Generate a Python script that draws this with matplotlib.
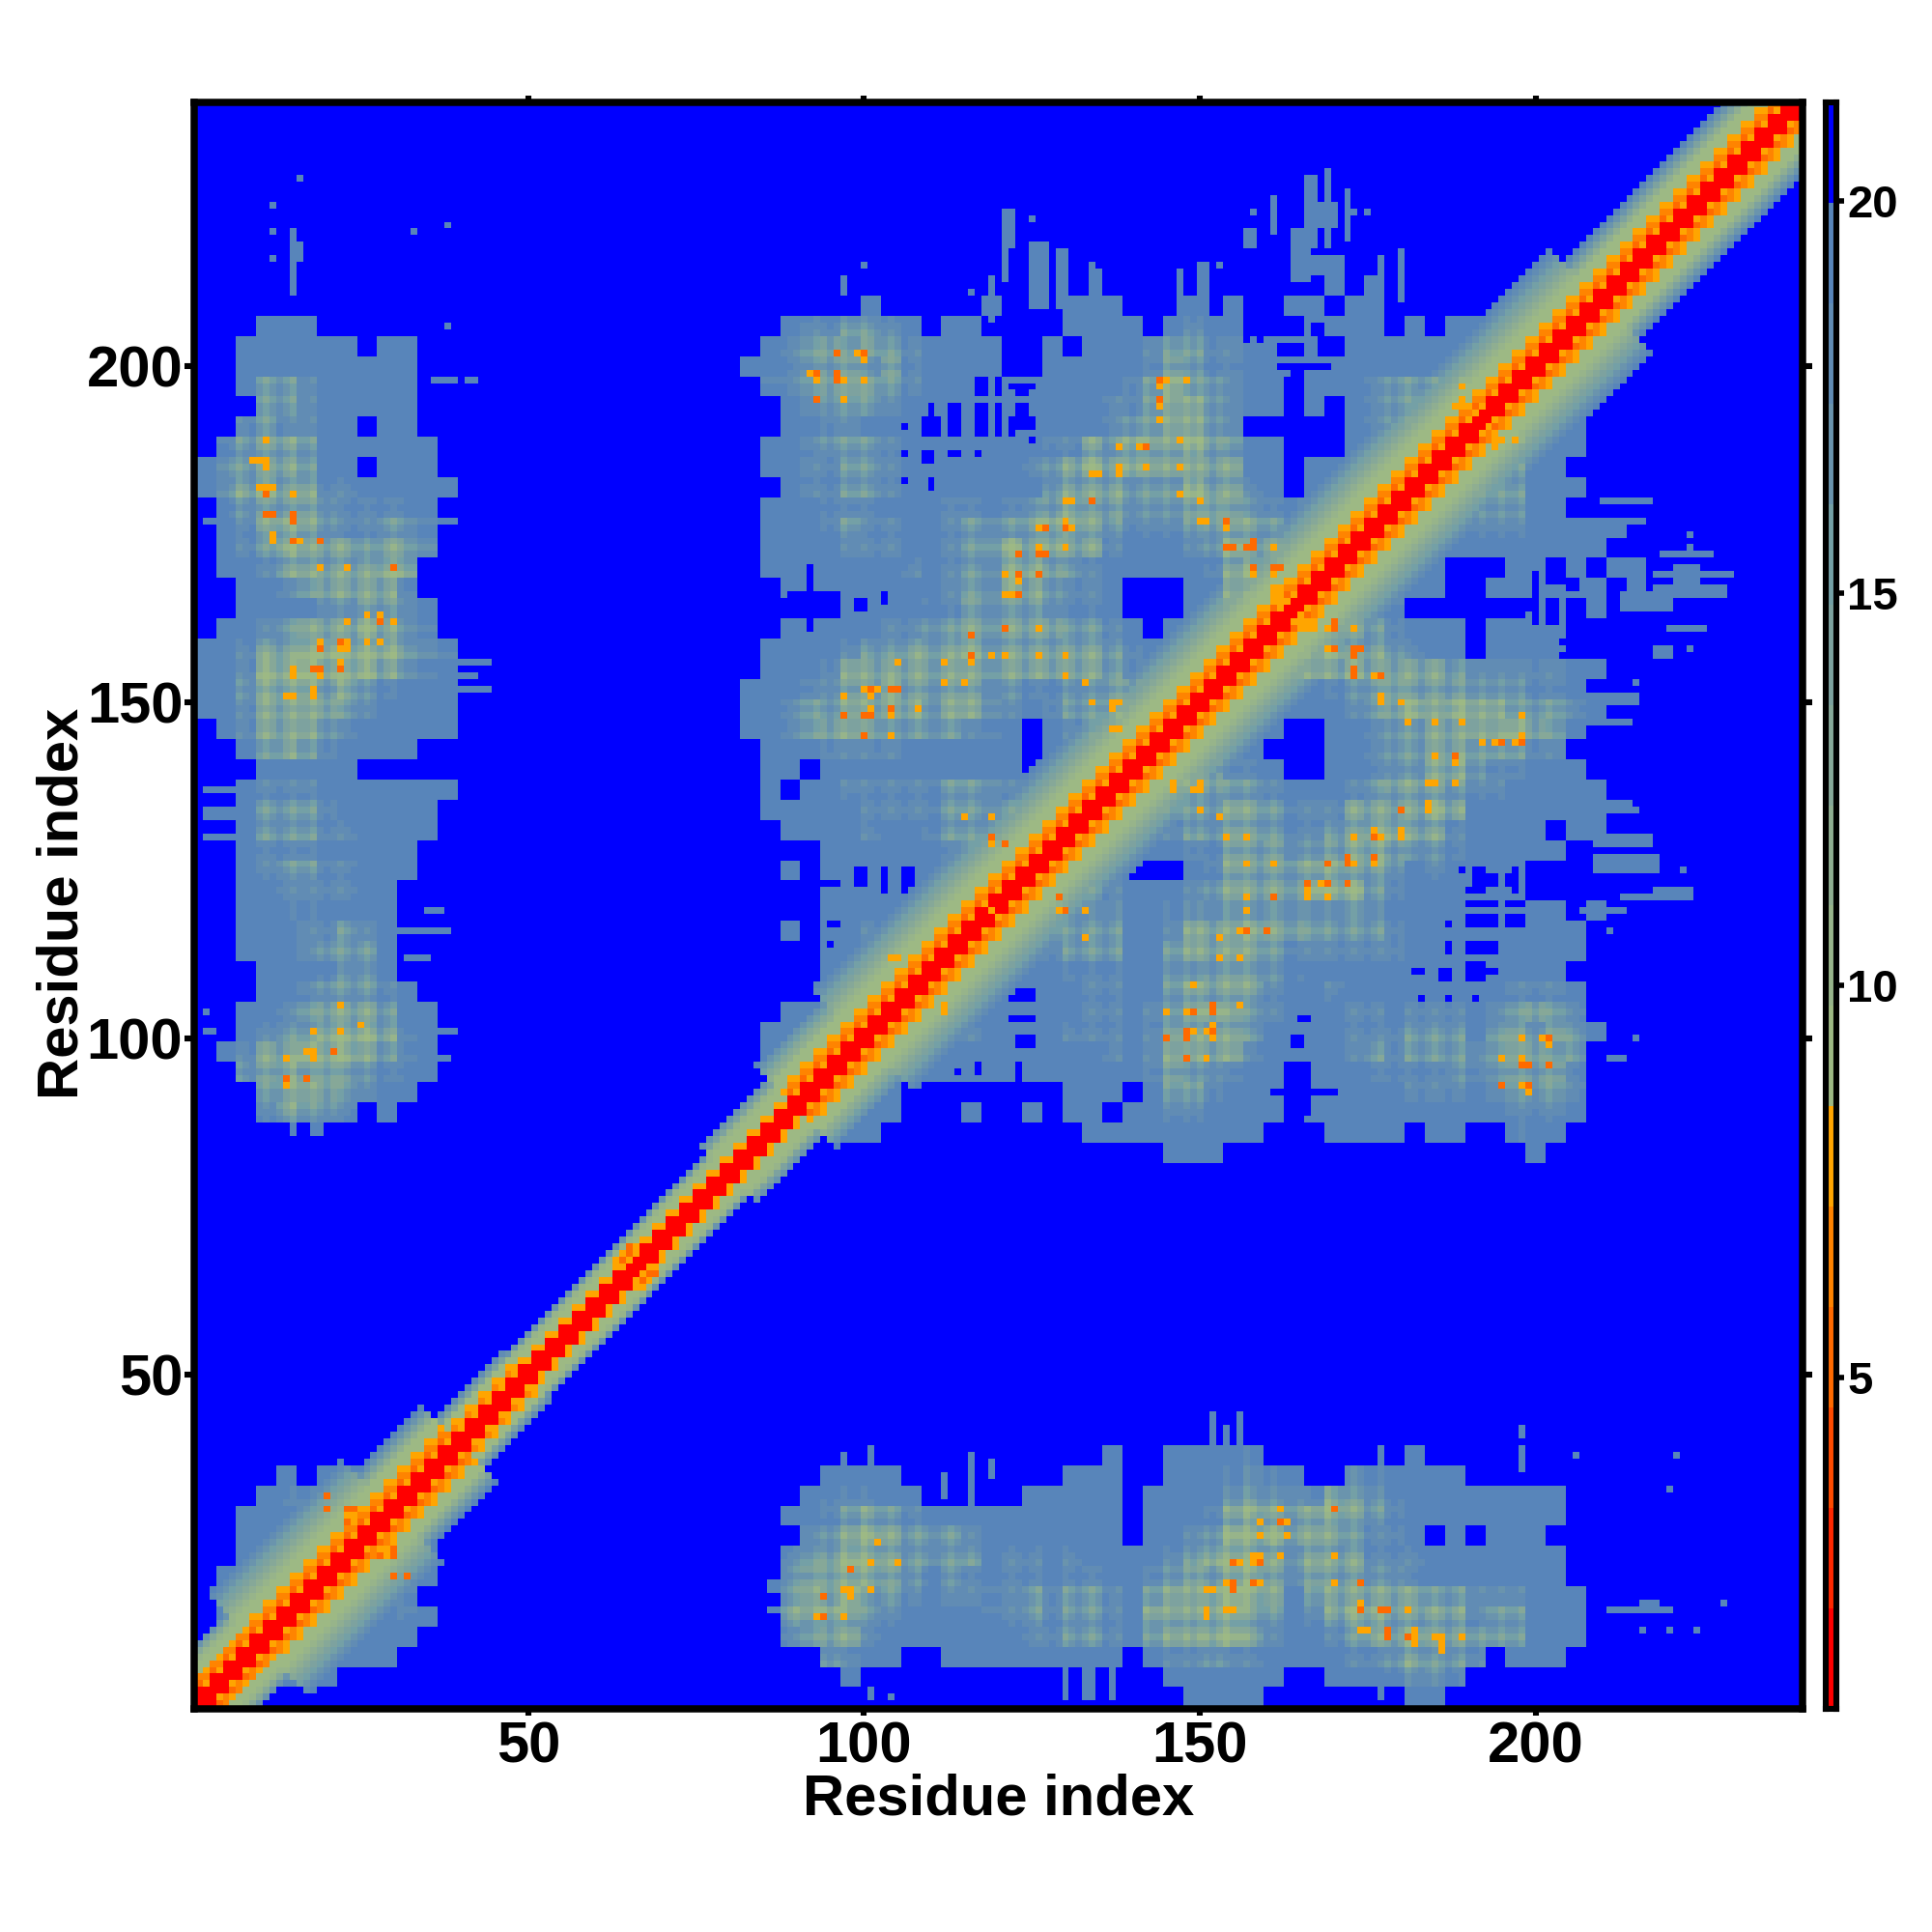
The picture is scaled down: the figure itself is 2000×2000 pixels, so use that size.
import numpy as np
import matplotlib
matplotlib.use("Agg")
import matplotlib.pyplot as plt
from matplotlib.colors import ListedColormap, BoundaryNorm

plt.rcParams['font.family'] = ['Liberation Sans', 'DejaVu Sans']
plt.rcParams['font.weight'] = 'bold'

N = 239
AXIS_LABEL = "Residue index"
MAP_TICKS = [50, 100, 150, 200]
BAR_TICKS = [5, 10, 15, 20]
LEVEL_EDGES = [0.78, 2.06, 3.34, 4.62, 5.90, 7.18, 8.46, 9.74, 11.02, 12.30,
               13.58, 14.86, 16.14, 17.42, 18.70, 19.98, 21.26]
LEVEL_COLOURS = ['#ff0000', '#ff2800', '#ff4b00', '#ff6a00', '#ff8400', '#ffa500',
                 '#9db984', '#97b48a', '#8fae91', '#86a898', '#7da29f', '#74a0a6',
                 '#6a94ad', '#618cb4', '#5885ba', '#0000ff']

# Upper-left half of the symmetric map, read in blocks of three residues.
# '.' is beyond the cut-off; digits are how far a block leans from steel to green.
STRIP_ROWS = {
    68: "...000........", 67: "..000000.00...", 66: "..000000000...",
    65: "..022100000...", 64: "...22100000...", 63: "..121100.00...",
    62: ".12332000000..", 61: "02233200.000..", 60: "0234331100000.",
    59: ".12333211111..", 58: ".01343211221..", 57: ".01243332332..",
    56: ".0013333344...", 55: "..001233331...", 54: "..0000223321..",
    53: ".00123334321..", 52: "0013345444321.", 51: "0014454443210.",
    50: "0024443421000.", 49: "0013333210000.", 48: ".013332100000.",
    47: "..023210000...", 46: "...00000......", 45: "..01110000000.",
    44: "..0222100000..", 43: "..0222110000..", 42: "..011100000...",
    41: "..012211000...", 40: "..00111100....", 39: "..00111000....",
    38: "..00011210....", 37: "..00012220....", 36: "...0001220....",
    35: "...00122210...", 34: "..0012333200..", 33: "..0122444310..",
    32: ".01334443210..", 31: "..2343432110..", 30: "...23332100...",
    29: "...13221.0....",
}
CORNER_ROWS = {
    2: "0", 3: ".0", 4: ".01", 5: ".0011", 6: ".00012", 7: "..00012",
    8: "..000012", 9: "..0001123", 10: "...0112112", 11: "....0.00011",
    12: "..........00",
}
SQUARE_ROWS = {  # first column is block 27
    71: "..... ..... ..... ..... ..... ....0",
    70: "..... ..... ..... ..... ..... ....0 .0",
    69: "..... .0... ..0.. .000. ..0.0 ..00. 00",
    68: "..011 2210. 00... .0000 .0100 ...00 00.0. 00012 3",
    67: ".0123 23210 000.. 0.000 12211 00000 00000 01122",
    66: "01123 32310 000.. 00000 13211 00000 00000 1223",
    65: ".1123 33210 00000 00001 24221 00.00 01222 333",
    64: "..012 22100 00000 00011 23321 00.0. 01222 33",
    63: "..001 10000 00000 00012 23321 ..... 01223 3",
    62: ".0012 22100 00000 11324 33432 00... 01233",
    61: ".0011 22100 00001 23434 33333 00.00 0123",
    60: "..011 22100 00000 23332 22433 10.00 123",
    59: ".0001 11000 11112 34332 22343 21101 13",
    58: ".0001 21100 12223 44321 11233 32112 3",
    57: ".0000 11100 12343 43310 00124 33333",
    56: ".0000 00010 12244 32100 00013 4333",
    55: "..000 00000 12243 2110. ..003 344",
    54: "..... 00001 13333 2110. ..003 34",
    53: "..000 00112 23333 32210 .0003 3",
    52: ".0000 12233 34333 33321 00013",
    51: ".0001 33333 33333 33321 1112",
    50: "00012 33433 33221 12233 233",
    49: "00122 33332 33210 12233 33",
    48: "00123 33222 2110. 01223 3",
    47: ".0001 11100 0000. 00123",
    46: ".00.0 00000 0000. 0123",
    45: ".0.00 11111 22210 233",
    44: ".0000 01111 22221 23",
    43: "..000 01001 22322 3",
    42: "....0 00000 12333",
    41: "..0.0 00000 1123",
    40: "....0 00000 011",
    39: "....0 00001 22",
    38: "..0.0 01122 3",
    37: "....0 01233",
    36: "....0 1123",
    35: "....0 001",
    34: "..000 00",
    33: ".0000 0",
    32: ".0000",
    31: "..00",
    29: "00",
}

# Residues whose rows and columns show up as the brighter stripes of the plaid.
BRIGHT_RESIDUES = [7, 11, 15, 18, 22, 26, 30, 90, 93, 97, 100, 104, 108, 113, 116,
                   122, 126, 130, 134, 138, 142, 145, 148, 150, 154, 157, 161, 166,
                   169, 173, 177, 181, 185, 189, 192, 195, 198, 202, 205]

# Level by sequence separation next to the diagonal, for 10-residue stretches.
BAND_CORE_EVEN = [0, 0, 0]
BAND_CORE_ODD = [0, 0, 5]
BAND_ROWS = [  # first character is separation 3
    "346679c", "34566789abcde", "34566789abcde",
    "345668ace", "456ad", "567c",
    "567c", "567c", "5667ac",
    "3456689bce", "34566789abcde", "34566789abcde",
    "34566789abcde", "34566789abcde", "34566789abcde",
    "34566789abcde", "34566789abcde", "34566789abcde",
    "34566789abcde", "34566789abcde", "34566789abcde",
    "345668ace", "345668ace", "345668ace",
]

# Thin features: x0, x1, y0, y1 in residues.
STEEL_SPANS = [
    (15, 15, 211, 220), (16, 16, 216, 218), (15, 15, 204, 206), (16, 16, 228, 228),
    (12, 12, 224, 224), (12, 12, 220, 220), (12, 12, 216, 216), (33, 33, 220, 220),
    (38, 38, 221, 221), (38, 38, 206, 206), (36, 39, 198, 198), (41, 42, 198, 198),
    (2, 5, 177, 177), (37, 39, 177, 177), (40, 44, 156, 156), (40, 42, 154, 154),
    (39, 44, 152, 152), (2, 6, 137, 137), (2, 6, 134, 134), (2, 6, 133, 133),
    (2, 7, 130, 130), (35, 37, 119, 119), (31, 38, 116, 116), (32, 35, 112, 112),
    (2, 3, 101, 101), (36, 39, 101, 101), (36, 38, 97, 97), (2, 2, 104, 104),
    (15, 15, 86, 90), (18, 19, 86, 89), (22, 22, 88, 90),
    (121, 122, 218, 223), (125, 125, 222, 222), (125, 127, 209, 218),
    (129, 130, 209, 217), (134, 135, 209, 214), (134, 134, 215, 215),
    (119, 119, 207, 213), (121, 121, 213, 217), (97, 97, 211, 213),
    (100, 100, 215, 215), (116, 116, 211, 211), (147, 147, 208, 214),
    (150, 151, 208, 215), (153, 153, 215, 215), (161, 161, 220, 225),
    (158, 158, 223, 223), (166, 167, 218, 228), (169, 169, 218, 229),
    (172, 172, 219, 226), (173, 173, 223, 223), (175, 175, 223, 223),
    (157, 158, 218, 220), (164, 166, 213, 220), (168, 170, 221, 224),
    (164, 170, 214, 216), (177, 177, 211, 216), (180, 180, 210, 217),
]
BLUE_SPANS = [
    (117, 118, 196, 198), (120, 120, 196, 198), (122, 125, 197, 197), (123, 124, 196, 196),
    (113, 114, 190, 194), (110, 110, 192, 194), (109, 111, 190, 192), (117, 118, 190, 194),
    (120, 120, 190, 194), (122, 125, 191, 192), (123, 124, 193, 194), (122, 122, 190, 190),
    (109, 110, 186, 187), (113, 114, 187, 187), (117, 117, 187, 187), (106, 106, 191, 191),
    (106, 106, 187, 187), (106, 106, 183, 183), (110, 110, 182, 183), (125, 125, 189, 189),
    (92, 92, 161, 170), (89, 96, 164, 166), (99, 100, 164, 165), (103, 103, 165, 166),
    (99, 100, 123, 125), (103, 103, 122, 125), (106, 107, 122, 125), (92, 96, 123, 123),
    (92, 92, 121, 126), (95, 96, 117, 117), (95, 95, 114, 114),
    (162, 169, 200, 200), (164, 165, 198, 199), (162, 164, 202, 203), (165, 165, 202, 203),
    (168, 171, 202, 204), (157, 157, 204, 204), (159, 159, 204, 205), (160, 165, 206, 206),
    (167, 168, 205, 206),
]

CONTACTS_DARK = [
    (11, 181), (11, 178), (12, 178), (15, 178), (15, 177), (19, 174), (15, 174),
    (30, 170), (28, 162), (19, 158), (22, 159), (18, 155), (19, 155), (22, 155),
    (21, 98), (14, 94), (17, 94), (96, 202), (100, 202), (93, 199), (96, 199),
    (96, 198), (93, 195), (144, 198), (144, 195), (142, 188), (134, 180), (127, 176),
    (130, 176), (154, 177), (154, 173), (155, 173), (126, 172), (127, 172), (123, 172),
    (123, 169), (126, 169), (123, 166), (121, 161), (116, 160), (116, 157), (101, 152),
    (104, 152), (105, 152), (97, 148), (100, 148), (101, 148), (100, 145), (104, 149),
    (119, 130), (129, 121), (130, 119), (158, 174), (158, 173), (157, 173), (162, 170),
    (170, 161), (170, 162), (170, 158), (23, 28), (20, 32), (20, 30), (23, 30), (24, 30),
    (65, 69), (65, 68), (64, 67),
]
CONTACTS_LIGHT = [
    (11, 189), (10, 186), (9, 186), (11, 186), (11, 185), (10, 182), (11, 182), (12, 182),
    (15, 181), (12, 175), (12, 174), (16, 174), (19, 170), (23, 170), (26, 163), (28, 163),
    (23, 162), (30, 162), (19, 159), (23, 159), (22, 158), (23, 158), (26, 159), (28, 159),
    (22, 156), (15, 155), (15, 154), (19, 154), (18, 152), (18, 151), (14, 151), (15, 151),
    (22, 105), (25, 102), (18, 101), (22, 101), (17, 98), (18, 98), (18, 97), (14, 97),
    (14, 93), (99, 202), (100, 201), (92, 199), (93, 198), (97, 198), (100, 198), (97, 195),
    (145, 198), (148, 198), (144, 197), (144, 194), (144, 192), (147, 189), (138, 188),
    (141, 188), (138, 185), (138, 184), (142, 185), (147, 185), (134, 184), (135, 184),
    (147, 181), (150, 180), (130, 180), (131, 180), (130, 177), (126, 176), (131, 176),
    (150, 177), (151, 177), (154, 176), (130, 173), (126, 173), (121, 169), (123, 168),
    (121, 166), (122, 166), (126, 161), (116, 156), (119, 157), (121, 157), (126, 157),
    (130, 157), (105, 156), (112, 156), (130, 154), (133, 153), (112, 153), (115, 153),
    (97, 151), (100, 152), (102, 152), (101, 151), (101, 149), (104, 148), (108, 149),
    (104, 145), (134, 150), (137, 150), (138, 150), (137, 149), (137, 146), (138, 146),
    (115, 133), (119, 133), (119, 129), (121, 129), (119, 119), (133, 119), (133, 115),
    (189, 197), (189, 195), (188, 194), (189, 194), (191, 193), (195, 189), (194, 189),
    (161, 173), (155, 173), (158, 170), (158, 169), (161, 170), (161, 169), (161, 167),
    (162, 167), (161, 165), (162, 165), (163, 165), (169, 161), (173, 161), (167, 162),
    (169, 158), (173, 158), (174, 158), (23, 29), (24, 29), (104, 112), (105, 112),
    (66, 69), (64, 68), (66, 68), (63, 67), (65, 67),
]

STEEL = 14
BLUE = 15
stripe = np.full(N + 2, 0.7)
for r in BRIGHT_RESIDUES:
    stripe[r] = 1.4
    stripe[r - 1] = max(stripe[r - 1], 1.0)
    stripe[r + 1] = max(stripe[r + 1], 1.0)

lev = np.full((N, N), BLUE, dtype=int)


def put_block(k, n, ch):
    if ch == '.':
        return
    for y in range(3 * k + 1, min(3 * k + 4, N + 1)):
        for x in range(3 * n + 1, min(3 * n + 4, N + 1)):
            lev[y - 1, x - 1] = int(np.clip(STEEL - int(1.35 * int(ch) * stripe[x] * stripe[y]), 6, 14))


for k, row in STRIP_ROWS.items():
    for n, ch in enumerate(row):
        put_block(k, n, ch)
for k, row in CORNER_ROWS.items():
    for n, ch in enumerate(row):
        put_block(k, n, ch)
for k, row in SQUARE_ROWS.items():
    for n, ch in enumerate(row.replace(' ', '')):
        put_block(k, 27 + n, ch)

for x0, x1, y0, y1 in BLUE_SPANS:
    lev[y0 - 1:y1, x0 - 1:x1] = BLUE
for x0, x1, y0, y1 in STEEL_SPANS:
    lev[y0 - 1:y1, x0 - 1:x1] = np.minimum(lev[y0 - 1:y1, x0 - 1:x1], STEEL)

# keep only the half above the diagonal, then mirror
for i in range(N):
    lev[i, i:] = BLUE
for i in range(N):
    for sep in range(0, 25):
        j = i + sep
        if j >= N:
            break
        mid = min((i + j + 2) // 2 // 10, 23)
        if sep < 3:
            v = (BAND_CORE_EVEN if i % 2 == 0 else BAND_CORE_ODD)[sep]
        else:
            row = BAND_ROWS[mid]
            v = int(row[sep - 3], 16) if sep - 3 < len(row) else BLUE
            if v <= 5 and i % 2:
                v += 1
        lev[j, i] = min(lev[j, i], v)
for x, y in CONTACTS_LIGHT:
    lev[y - 1, x - 1] = 5
for x, y in CONTACTS_DARK:
    lev[y - 1, x - 1] = 3
for y in range(N):
    for x in range(y):
        lev[y, x], lev[x, y] = min(lev[y, x], lev[x, y]), min(lev[y, x], lev[x, y])

edges = np.array(LEVEL_EDGES)
distance = (edges[lev] + edges[lev + 1]) / 2
cmap = ListedColormap(LEVEL_COLOURS)
norm = BoundaryNorm(LEVEL_EDGES, cmap.N)

S = 2000
fig = plt.figure(figsize=(10, 10), dpi=200, facecolor='white')
ax = fig.add_axes([201 / S, 1 - 1769 / S, 1665 / S, 1663 / S])
res = np.arange(N + 1) + 0.5
ax.pcolormesh(res, res, distance, cmap=cmap, norm=norm, rasterized=True)
ax.set_xlim(0.25, 239.75)
ax.set_ylim(0.25, 239.25)
ax.set_xticks(MAP_TICKS)
ax.set_yticks(MAP_TICKS)
ax.tick_params(axis='both', which='major', length=3.6, width=2.2, labelsize=21.5,
               top=True, right=True, bottom=True, left=True, pad=0.6)
ax.tick_params(axis='x', length=2.5, pad=2)
for sp in ax.spines.values():
    sp.set_linewidth(2.7)
fig.text(1034 / S, 1 - 1863 / S, AXIS_LABEL, ha='center', va='center', fontsize=21.5, fontweight='bold')
fig.text(65 / S, 1 - 935 / S, AXIS_LABEL, ha='center', va='center', rotation=90, fontsize=21.5, fontweight='bold')

cax = fig.add_axes([1890 / S, 1 - 1769 / S, 11 / S, 1663 / S])
cax.pcolormesh([0, 1], LEVEL_EDGES, np.array([(edges[:-1] + edges[1:]) / 2]).T, cmap=cmap, norm=norm)
cax.set_ylim(LEVEL_EDGES[0], LEVEL_EDGES[-1])
cax.set_xticks([])
cax.yaxis.tick_right()
cax.set_yticks(BAR_TICKS)
cax.tick_params(axis='y', length=3, width=2.0, labelsize=17, pad=1)
for sp in cax.spines.values():
    sp.set_linewidth(2.2)

fig.savefig('out.png', dpi=200)
